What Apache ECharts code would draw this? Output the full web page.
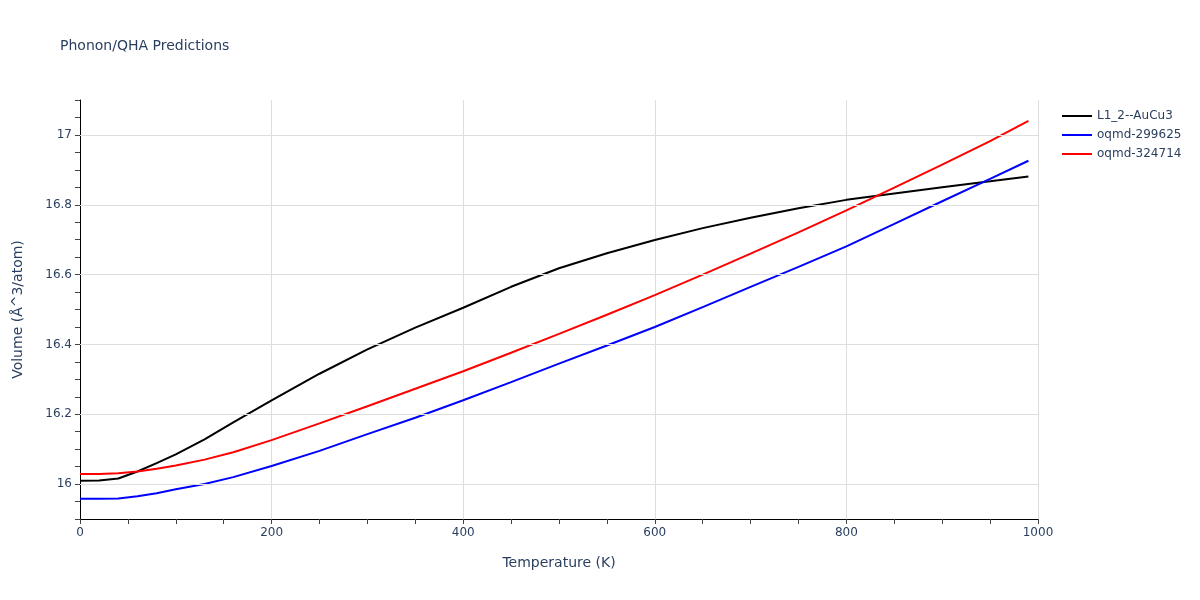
<!DOCTYPE html>
<html><head><meta charset="utf-8">
<script src="https://cdn.jsdelivr.net/npm/echarts@6/dist/echarts.min.js"></script>
<style>html,body{margin:0;padding:0;background:#fff}#c{width:1200px;height:600px}</style>
</head><body><div id="c"></div>
<script>
const temps = [0,20,40,60,80,100,130,160,200,250,300,350,400,450,500,550,600,650,700,750,800,850,900,950,990];
const auCu3 = [16.0095,16.010,16.016,16.036,16.06,16.085,16.128,16.177,16.24,16.316,16.386,16.448,16.505,16.565,16.618,16.661,16.699,16.733,16.763,16.79,16.814,16.832,16.850,16.867,16.881];
const oqmd299625 = [15.958,15.958,15.959,15.965,15.974,15.985,16.0,16.02,16.052,16.095,16.143,16.19,16.24,16.292,16.345,16.397,16.45,16.507,16.565,16.622,16.681,16.745,16.81,16.874,16.926];
const oqmd324714 = [16.0287,16.029,16.031,16.036,16.044,16.053,16.07,16.091,16.126,16.174,16.223,16.273,16.323,16.376,16.43,16.485,16.541,16.6,16.66,16.721,16.784,16.849,16.915,16.982,17.04];
const seriesNames = ['L1_2--AuCu3','oqmd-299625','oqmd-324714'];
const seriesColors = ['#000000','#0000ff','#ff0000'];
const yGridValues = [16,16.2,16.4,16.6,16.8,17];

const txt = '#2a3f5f';
const font = '"DejaVu Sans", Verdana, sans-serif';
const chart = echarts.init(document.getElementById('c'));
const pair = arr => temps.map((t,i)=>[t,arr[i]]);
const datasets = [auCu3, oqmd299625, oqmd324714];
const series = datasets.map((d,i)=>({
  name: seriesNames[i], type:'line', data: pair(d), showSymbol:false, symbol:'none',
  lineStyle:{color:seriesColors[i], width:2}, itemStyle:{color:seriesColors[i]}, z:3,
  smooth:false
}));
series.unshift({
  type:'line', data:[], silent:true, z:1,
  markLine:{silent:true, symbol:'none', label:{show:false}, animation:false,
    lineStyle:{color:'#dedede', width:1, type:'solid'},
    data: yGridValues.map(v=>({yAxis:v}))}
});
chart.setOption({
  animation:false,
  backgroundColor:'#fff',
  title:{text:'Phonon/QHA Predictions', left:55, top:34, textStyle:{fontFamily:font, fontSize:14, fontWeight:'normal', color:txt}},
  legend:{orient:'vertical', left:1057, top:105, itemGap:7, itemWidth:30, itemHeight:2, icon:'rect',
    data: seriesNames, textStyle:{fontFamily:font, fontSize:12, color:txt}},
  grid:{left:80, right:162, top:100, bottom:81},
  xAxis:{type:'value', min:0, max:1000, interval:200,
    name:'Temperature (K)', nameLocation:'middle', nameGap:37, nameTextStyle:{fontFamily:font, fontSize:14, color:txt},
    axisLine:{show:true, lineStyle:{color:'#000', width:1}},
    axisTick:{show:true, length:5, lineStyle:{color:'#444'}},
    minorTick:{show:true, splitNumber:4, length:5, lineStyle:{color:'#444'}},
    axisLabel:{fontFamily:font, fontSize:12, color:txt, margin:8, formatter:function(v){return String(v);}},
    splitLine:{show:true, lineStyle:{color:'#dedede'}}
  },
  yAxis:{type:'value', min:15.9, max:17.1, interval:0.05,
    name:'Volume (Å^3/atom)', nameLocation:'middle', nameGap:55, nameTextStyle:{fontFamily:font, fontSize:14, color:txt},
    axisLine:{show:true, lineStyle:{color:'#000', width:1}},
    axisTick:{show:true, length:5, lineStyle:{color:'#444'}},
    axisLabel:{fontFamily:font, fontSize:12, color:txt, margin:8, formatter:function(v){
      const r = Math.round(v*100)/100; const t = Math.round(r*10);
      if (Math.abs(r*10 - t) > 1e-6) return '';
      if (t % 2 !== 0 || r < 16 || r > 17) return '';
      return String(Math.round(r*10)/10);
    }},
    splitLine:{show:false}
  },
  series: series
});
</script></body></html>
